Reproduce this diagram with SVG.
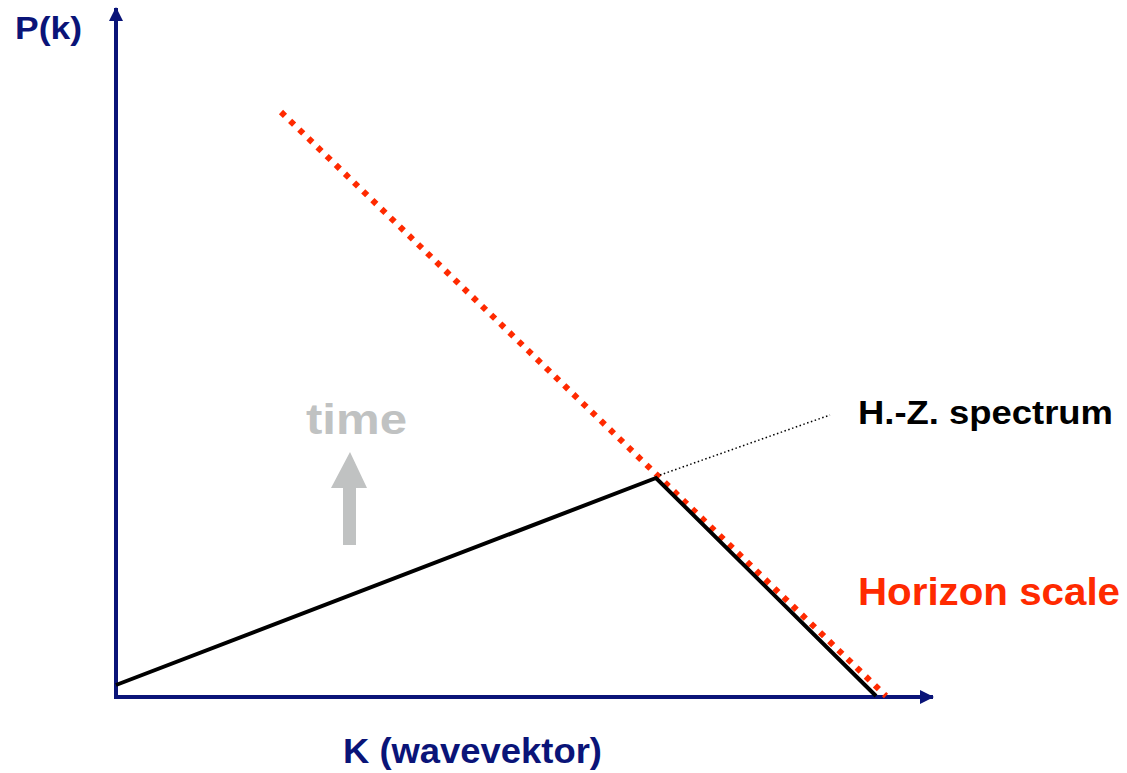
<svg xmlns="http://www.w3.org/2000/svg" width="1127" height="773" viewBox="0 0 1127 773">
<style>
text{font-family:"Liberation Sans",Arial,sans-serif;font-weight:bold}
.axis{stroke:#0a1478;stroke-width:4;fill:none}
.navy{fill:#0a1478}
</style>
<defs>
<marker id="ah" viewBox="0 0 14 14" refX="13" refY="7" markerWidth="14" markerHeight="14" markerUnits="userSpaceOnUse" orient="auto">
<path d="M0,0 L14,7 L0,14 Z" fill="#0a1478"/>
</marker>
</defs>
<rect width="1127" height="773" fill="#fff"/>
<g id="axes">
<line class="axis" x1="116" y1="698" x2="116" y2="8" marker-end="url(#ah)"/>
<line class="axis" x1="114" y1="697" x2="933" y2="697" marker-end="url(#ah)"/>
</g>
<g id="connectors">
<line id="horizon-line" x1="281" y1="112" x2="886" y2="696" stroke="#ff2a00" stroke-width="6" stroke-dasharray="5.5 7.2"/>
<polyline id="spectrum" points="116,685 656,478 876,696" fill="none" stroke="#000" stroke-width="4" stroke-linejoin="miter"/>
<line id="hz-leader" x1="660" y1="475" x2="830" y2="415" stroke="#000" stroke-width="1.5" stroke-dasharray="1.5 2.5"/>
</g>
<g id="time-arrow">
<path d="M343,545 L356,545 L356,488 L367,488 L350,452 L331,488 L343,488 Z" fill="#c0c2c2"/>
</g>
<g id="labels">
<text id="pk" class="navy" x="15" y="39" font-size="31" textLength="67" lengthAdjust="spacingAndGlyphs">P(k)</text>
<text id="kw" class="navy" x="343" y="763" font-size="35" textLength="259" lengthAdjust="spacingAndGlyphs">K (wavevektor)</text>
<text id="hz" x="858" y="424" font-size="34" fill="#000" textLength="255" lengthAdjust="spacingAndGlyphs">H.-Z. spectrum</text>
<text id="hs" x="858" y="605" font-size="38" fill="#ff2a00" textLength="262" lengthAdjust="spacingAndGlyphs">Horizon scale</text>
<text id="time" x="306" y="434" font-size="42" fill="#c0c2c2" textLength="101" lengthAdjust="spacingAndGlyphs">time</text>
</g>
</svg>
